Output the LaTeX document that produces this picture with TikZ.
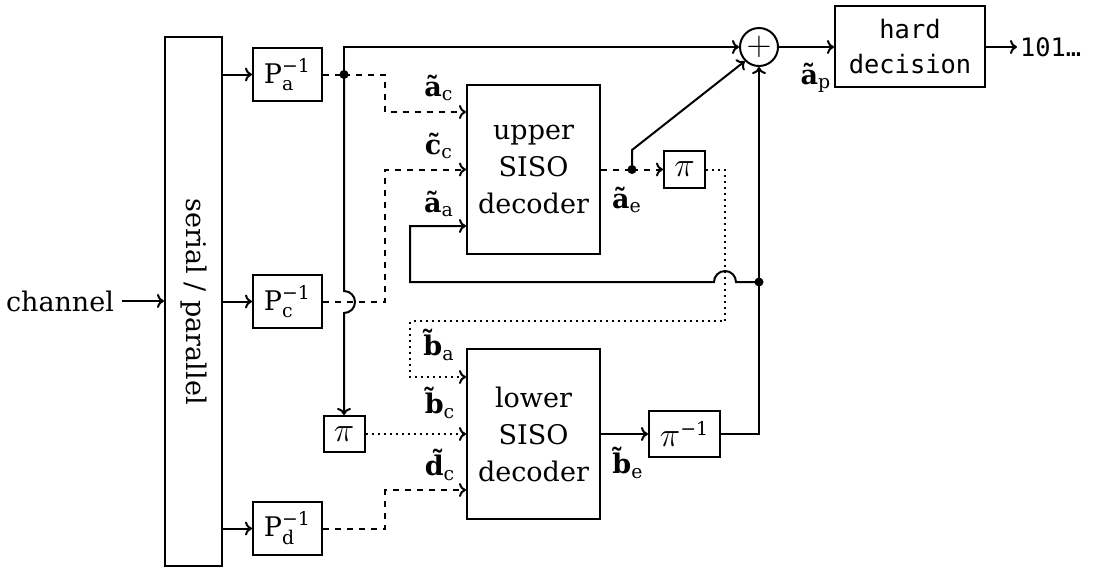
\documentclass[tikz,border=0pt]{standalone}
\usepackage{graphicx}
\usepackage{amsmath}
\usepackage{fontspec}
\setmainfont{DejaVu Serif}
\setmonofont{DejaVu Sans Mono}
\usetikzlibrary{arrows.meta, positioning}
\newcommand{\Pinv}[1]{P$_{\text{#1}}^{\text{−1}}$}
\newcommand{\ipi}{{\fontsize{17}{20}\selectfont$\pi$}}
\newcommand{\vlbl}[2]{\textbf{#1}$_{\text{#2}}$}

\begin{document}
\begin{tikzpicture}[x=0.5pt, y=0.5pt, line width=1pt, >={To[length=3.5pt, width=7pt]},
  every node/.style={font=\fontsize{13.5}{18.5}\selectfont},
  blk/.style={draw, inner sep=0pt, align=center},
  lbl/.style={inner sep=0pt},
  jdot/.style={circle, fill, inner sep=0pt, minimum size=4.5pt}]
  \useasboundingbox (0,0) rectangle (1097,-570);
  % --- input side ---------------------------------------------------
  \node (chan) at (60,-301) {channel};
  \node[blk, minimum width=28.5pt, minimum height=264.5pt] (sp) at (193.5,-301.5) {\rotatebox{-90}{serial / parallel}};
  \node[blk, minimum width=34.5pt, minimum height=26.5pt] (Pa) at (287.5,-74.5) {\Pinv{a}};
  \node[blk, minimum width=34.5pt, minimum height=26.5pt] (Pc) at (287.5,-301.5) {\Pinv{c}};
  \node[blk, minimum width=34.5pt, minimum height=26.5pt] (Pd) at (287.5,-528.5) {\Pinv{d}};
  % --- decoders and interleavers -------------------------------------
  \node[blk, minimum width=66.5pt, minimum height=84.5pt] (upper) at (533.5,-169.5) {upper\\SISO\\decoder};
  \node[blk, minimum width=66.5pt, minimum height=85pt] (lower) at (533.5,-434) {lower\\SISO\\decoder};
  \node[blk, minimum width=20.5pt, minimum height=18.5pt] (piU) at (684.5,-169.5) {\ipi};
  \node[blk, minimum width=20.5pt, minimum height=18pt] (piL) at (344,-434) {\ipi};
  \node[blk, minimum width=35.5pt, minimum height=23pt] (piI) at (684.5,-434) {\ipi$^{\text{−1}}$};
  % --- output side --------------------------------------------------
  \node[draw, circle, inner sep=0pt, minimum size=19pt, font=\fontsize{19}{20}\selectfont] (sum) at (759,-47) {$+$};
  \node[blk, minimum width=75pt, minimum height=40.5pt, font=\fontsize{12.7}{17.5}\selectfont\ttfamily] (hard) at (910,-46.5) {hard\\decision};
  \node[anchor=west, inner sep=1pt, font=\fontsize{12.7}{17.5}\selectfont\ttfamily] (out) at (1017,-47) {101…};
  % --- branch points ------------------------------------------------
  \coordinate (ja) at (344,-74.5);
  \coordinate (ae) at (632,-169.5);
  \coordinate (jb) at (759,-282);
  \node[jdot] at (ja) {};
  \node[jdot] at (ae) {};
  \node[jdot] at (jb) {};
  % --- labels -------------------------------------------------------
  \node[lbl] (lAc) at (439,-88) {\vlbl{ã}{c}};
  \node[lbl] (lCc) at (439,-146) {\vlbl{c̃}{c}};
  \node[lbl] (lAa) at (439,-204) {\vlbl{ã}{a}};
  \node[lbl] (lAe) at (627,-200) {\vlbl{ã}{e}};
  \node[lbl] (lAp) at (816,-78) {\vlbl{ã}{p}};
  \node[lbl] (lBa) at (439,-345) {\vlbl{b̃}{a}};
  \node[lbl] (lBc) at (440,-403) {\vlbl{b̃}{c}};
  \node[lbl] (lDc) at (440,-465) {\vlbl{d̃}{c}};
  \node[lbl] (lBe) at (628,-463) {\vlbl{b̃}{e}};
  % --- connections --------------------------------------------------
  \draw[->] (chan.east) -- (chan.east -| sp.west);
  \draw[->] (sp.east |- Pa) -- (Pa);
  \draw[->] (sp.east |- Pc) -- (Pc);
  \draw[->] (sp.east |- Pd) -- (Pd);
  \draw[dashed] (Pa) -- (ja);
  \draw[->] (ja) -- (344,-47) -- (sum);
  \draw[dashed, ->] (ja) -- (385,-74.5) -- (385,-112) -- (upper.west |- 0,-112);
  \draw[dashed, ->] (Pc) -- (385,-301.5) -- (385,-169.5) -- (upper);
  \draw[->] (ja) -- (344,-291) arc[start angle=90, end angle=-90, radius=5.5pt] -- (piL);
  \draw[dashed] (upper) -- (ae);
  \draw[dashed, ->] (ae) -- (piU);
  \draw[->] (ae) -- (632,-150) -- (sum.225);
  \draw[dotted, ->] (piU) -- (725,-169.5) -- (725,-321) -- (410,-321) -- (410,-377) -- (lower.west |- 0,-377);
  \draw[->] (jb) -- (736,-282) arc[start angle=0, end angle=180, radius=5.5pt] -- (410,-282) -- (410,-226) -- (upper.west |- 0,-226);
  \draw[dotted, ->] (piL) -- (lower);
  \draw[dashed, ->] (Pd) -- (385,-528.5) -- (385,-490) -- (lower.west |- 0,-490);
  \draw[->] (lower) -- (piI);
  \draw (piI) -- (759,-434) -- (jb);
  \draw[->] (jb) -- (sum);
  \draw[->] (sum) -- (hard.west |- sum);
  \draw[->] (hard.east |- out) -- (out.west);
\end{tikzpicture}
\end{document}
